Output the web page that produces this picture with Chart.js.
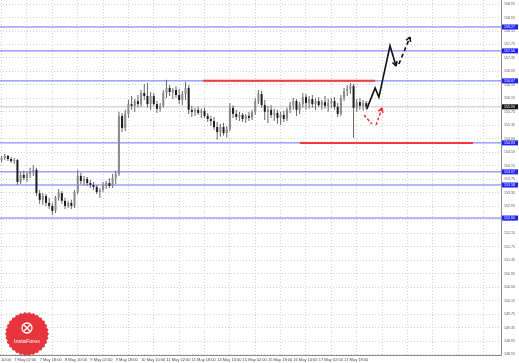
<!DOCTYPE html>
<html>
<head>
<meta charset="utf-8">
<script src="https://cdn.jsdelivr.net/npm/chart.js@4.4.1/dist/chart.umd.min.js"></script>
<style>
  html, body { margin: 0; padding: 0; background: #fff; }
  canvas { display: block; }
</style>
</head>
<body>
<canvas id="myChart" width="519" height="363"></canvas>
<script>
// 2 hour bars, first one is 4 May 18:00
const opens = [
    154.32, 154.38, 154.44, 154.35, 154.29, 154.32, 153.67, 153.88, 153.79, 153.91,
    153.97, 154.03, 153.34, 153.14, 153.25, 153.05, 152.96, 152.81, 153.20, 153.34,
    153.11, 152.96, 153.05, 152.96, 153.37, 153.85, 153.70, 153.76, 153.64, 153.58,
    153.52, 153.37, 153.43, 153.58, 153.64, 153.55, 153.79, 153.91, 155.63, 155.27,
    155.69, 155.98, 155.93, 156.07, 155.98, 156.31, 156.22, 155.98, 156.22, 155.98,
    155.84, 155.93, 156.31, 156.46, 156.34, 156.40, 156.25, 156.10, 156.28, 156.46,
    155.81, 155.75, 155.81, 155.72, 155.78, 155.63, 155.54, 155.48, 155.30, 155.15,
    155.30, 155.12, 155.24, 155.87, 155.69, 155.60, 155.66, 155.54, 155.63, 155.57,
    155.75, 156.07, 156.28, 155.95, 155.75, 155.81, 155.66, 155.72, 155.57, 155.66,
    155.54, 155.81, 155.95, 156.07, 155.81, 155.98, 156.19, 156.01, 156.13, 155.98,
    156.07, 155.95, 156.04, 155.93, 156.01, 156.07, 155.90, 155.69, 156.16, 156.37,
    156.43, 156.52, 155.87, 156.04, 155.93, 156.01
];
const highs = [
    154.44, 154.50, 154.47, 154.41, 154.38, 154.35, 153.97, 154.00, 153.97, 154.09,
    154.17, 154.09, 153.43, 153.34, 153.31, 153.20, 153.05, 153.25, 153.46, 153.40,
    153.20, 153.11, 153.14, 153.43, 154.03, 153.94, 153.85, 153.82, 153.73, 153.67,
    153.58, 153.49, 153.67, 153.70, 153.79, 153.91, 154.00, 155.75, 155.72, 155.81,
    156.10, 156.22, 156.13, 156.25, 156.40, 156.58, 156.61, 156.34, 156.31, 156.07,
    156.01, 156.40, 156.70, 156.55, 156.46, 156.52, 156.43, 156.37, 156.64, 156.55,
    155.93, 155.87, 155.90, 155.84, 155.87, 155.72, 155.63, 155.60, 155.45, 155.39,
    155.42, 155.33, 156.01, 155.95, 155.81, 155.75, 155.72, 155.69, 155.75, 155.81,
    156.16, 156.40, 156.37, 156.10, 155.93, 155.95, 155.84, 155.81, 155.75, 155.78,
    155.87, 156.04, 156.16, 156.13, 156.04, 156.31, 156.28, 156.22, 156.25, 156.16,
    156.19, 156.10, 156.22, 156.13, 156.16, 156.19, 156.01, 156.25, 156.46, 156.55,
    156.61, 156.58, 156.13, 156.16, 156.10, 156.07
];
const lows = [
    154.26, 154.32, 154.29, 154.23, 154.20, 153.58, 153.61, 153.73, 153.67, 153.79,
    153.85, 153.25, 153.02, 152.99, 152.96, 152.87, 152.69, 152.75, 153.11, 153.02,
    152.87, 152.90, 152.87, 152.90, 153.31, 153.61, 153.58, 153.55, 153.49, 153.43,
    153.31, 153.20, 153.37, 153.46, 153.49, 153.49, 153.61, 153.85, 155.15, 155.18,
    155.57, 155.81, 155.75, 155.87, 155.90, 156.10, 155.87, 155.81, 155.93, 155.72,
    155.75, 155.87, 156.16, 156.22, 156.13, 156.16, 155.98, 155.95, 156.10, 155.69,
    155.60, 155.63, 155.66, 155.57, 155.57, 155.45, 155.33, 155.21, 154.92, 155.01,
    155.04, 154.98, 155.18, 155.57, 155.51, 155.48, 155.45, 155.42, 155.48, 155.51,
    155.66, 155.98, 155.87, 155.51, 155.42, 155.57, 155.48, 155.39, 155.36, 155.45,
    155.48, 155.72, 155.81, 155.63, 155.69, 155.87, 155.81, 155.84, 155.87, 155.81,
    155.90, 155.81, 155.84, 155.75, 155.87, 155.81, 155.60, 155.63, 156.07, 156.22,
    156.28, 154.98, 155.75, 155.81, 155.78, 155.81
];
const closes = [
    154.38, 154.44, 154.35, 154.29, 154.32, 153.67, 153.88, 153.79, 153.91, 153.97,
    154.03, 153.34, 153.14, 153.25, 153.05, 152.96, 152.81, 153.20, 153.34, 153.11,
    152.96, 153.05, 152.96, 153.37, 153.85, 153.70, 153.76, 153.64, 153.58, 153.52,
    153.37, 153.43, 153.58, 153.64, 153.55, 153.79, 153.91, 155.63, 155.27, 155.69,
    155.98, 155.93, 156.07, 155.98, 156.31, 156.22, 155.98, 156.22, 155.98, 155.84,
    155.93, 156.31, 156.46, 156.34, 156.40, 156.25, 156.10, 156.28, 156.46, 155.81,
    155.75, 155.81, 155.72, 155.78, 155.63, 155.54, 155.48, 155.30, 155.15, 155.30,
    155.12, 155.24, 155.87, 155.69, 155.60, 155.66, 155.54, 155.63, 155.57, 155.75,
    156.07, 156.28, 155.95, 155.75, 155.81, 155.66, 155.72, 155.57, 155.66, 155.54,
    155.81, 155.95, 156.07, 155.81, 155.98, 156.19, 156.01, 156.13, 155.98, 156.07,
    155.95, 156.04, 155.93, 156.01, 156.07, 155.90, 155.69, 156.16, 156.37, 156.43,
    156.52, 155.87, 156.04, 155.93, 156.01, 155.90
];

const yTicks = [
    148.55, 148.95, 149.35, 149.75, 150.15, 150.55, 150.95, 151.35, 151.75,
    152.15, 152.55, 152.95, 153.35, 153.75, 154.15, 154.55, 154.95, 155.35,
    155.75, 156.15, 156.55, 156.95, 157.35, 157.75, 158.15, 158.55, 158.95
];
// one label every 8 bars, first one sits 4 bars before the first bar
const timeLabels = [
    '4 May 10:00', '7 May 02:00', '7 May 18:00', '8 May 10:00', '9 May 02:00',
    '9 May 18:00', '10 May 10:00', '11 May 02:00', '11 May 18:00', '14 May 10:00',
    '15 May 02:00', '15 May 18:00', '16 May 10:00', '17 May 02:00', '17 May 18:00'
];

const levels = [158.27, 157.56, 156.67, 154.83, 153.97, 153.58, 152.60];
const lastPrice = 155.90;

// red zone lines: [price, from bar, to bar]
const redLines = [
    [156.67, 63.5, 117.8],
    [154.83, 94.1, 148.7]
];

// forecast arrows [bar, price]
const blackPath = [[115.2, 155.84], [117.8, 156.46], [119.0, 156.19], [122.5, 157.71], [124.4, 157.11]];
const blackDash = [[125.3, 157.17], [128.8, 157.97]];
const redDash1 = [[114.3, 155.66], [116.8, 155.39]];
const redDash2 = [[118.1, 155.36], [120.0, 155.87]];

const SLOTS = 158;

let wicks = [];
let bodies = [];
for (let i = 0; i < opens.length; i++) {
    wicks.push({x: i, y: [lows[i], highs[i]]});
    bodies.push({x: i, y: [Math.min(opens[i], closes[i]), Math.max(opens[i], closes[i])]});
}

function pts(arr)
{
    return arr.map(p => ({x: p[0], y: p[1]}));
}

let datasets = [];

levels.forEach(v => {
    datasets.push({
        type: 'line', data: [{x: -0.5, y: v}, {x: SLOTS - 0.5, y: v}],
        borderColor: '#6f6fff', borderWidth: 1, pointRadius: 0, order: 6
    });
});
datasets.push({
    type: 'line', data: [{x: -0.5, y: lastPrice}, {x: SLOTS - 0.5, y: lastPrice}],
    borderColor: '#c4c4c4', borderWidth: 1, pointRadius: 0, order: 6
});
redLines.forEach(r => {
    datasets.push({
        type: 'line', data: [{x: r[1], y: r[0]}, {x: r[2], y: r[0]}],
        borderColor: '#f23b3b', borderWidth: 2, pointRadius: 0, order: 1
    });
});

datasets.push({
    type: 'bar', data: wicks, grouped: false, maxBarThickness: 1,
    backgroundColor: '#666', borderWidth: 0, order: 3
});
datasets.push({
    type: 'bar', data: bodies, grouped: false, maxBarThickness: 2, minBarLength: 1,
    backgroundColor: ctx => closes[ctx.dataIndex] >= opens[ctx.dataIndex] ? '#8a8a8a' : '#1c1c1c',
    borderWidth: 0, order: 2
});

datasets.push({
    type: 'line', data: pts(blackPath), borderColor: '#111', borderWidth: 1.6,
    pointRadius: 0, order: 0, arrowHead: true
});
datasets.push({
    type: 'line', data: pts(blackDash), borderColor: '#111', borderWidth: 1.6,
    borderDash: [4, 3], pointRadius: 0, order: 0, arrowHead: true
});
datasets.push({
    type: 'line', data: pts(redDash1), borderColor: '#f03030', borderWidth: 1.5,
    borderDash: [3, 2], pointRadius: 0, order: 0
});
datasets.push({
    type: 'line', data: pts(redDash2), borderColor: '#f03030', borderWidth: 1.5,
    borderDash: [3, 2], pointRadius: 0, order: 0, arrowHead: true
});

const arrowPlugin = {
    id: 'arrows',
    afterDatasetsDraw(chart) {
        const ctx = chart.ctx;
        chart.data.datasets.forEach((ds, i) => {
            if (!ds.arrowHead) return;
            const p = chart.getDatasetMeta(i).data;
            const a = p[p.length - 2], b = p[p.length - 1];
            const ang = Math.atan2(b.y - a.y, b.x - a.x);
            ctx.save();
            ctx.strokeStyle = ds.borderColor;
            ctx.lineWidth = ds.borderWidth;
            ctx.setLineDash([]);
            ctx.beginPath();
            [-0.5, 0.5].forEach(d => {
                ctx.moveTo(b.x, b.y);
                ctx.lineTo(b.x - 5 * Math.cos(ang + d), b.y - 5 * Math.sin(ang + d));
            });
            ctx.stroke();
            ctx.restore();
        });
    }
};

const framePlugin = {
    id: 'frame',
    afterDraw(chart) {
        const ctx = chart.ctx;
        const a = chart.chartArea;
        const ys = chart.scales.y;
        ctx.save();
        ctx.strokeStyle = '#8a8a8a';
        ctx.lineWidth = 1;
        ctx.beginPath();
        ctx.moveTo(a.right + 0.5, 0);
        ctx.lineTo(a.right + 0.5, a.bottom + 0.5);
        ctx.lineTo(0, a.bottom + 0.5);
        ctx.stroke();

        // price labels of the drawn levels
        ctx.font = '3.6px "Liberation Sans"';
        ctx.textBaseline = 'middle';
        ctx.textAlign = 'left';
        levels.forEach(v => {
            const y = ys.getPixelForValue(v);
            ctx.fillStyle = '#1f1fff';
            ctx.fillRect(a.right + 1, y - 2.5, 16, 5);
            ctx.fillStyle = '#fff';
            ctx.fillText(v.toFixed(2), a.right + 3, y);
        });
        const yl = ys.getPixelForValue(lastPrice);
        ctx.fillStyle = '#111';
        ctx.fillRect(a.right + 1, yl - 2.5, 16, 5);
        ctx.fillStyle = '#fff';
        ctx.fillText(lastPrice.toFixed(2), a.right + 3, yl);

        // logo badge
        const cx = 27, cy = 334, R = 22;
        ctx.fillStyle = '#e8353d';
        ctx.beginPath();
        for (let k = 0; k <= 60; k++) {
            const ang = k / 60 * Math.PI * 2;
            const r = k % 2 ? R - 1.5 : R;
            const px = cx + r * Math.cos(ang), py = cy + r * Math.sin(ang);
            if (k == 0) ctx.moveTo(px, py); else ctx.lineTo(px, py);
        }
        ctx.fill();
        ctx.strokeStyle = '#fff';
        ctx.lineWidth = 1.3;
        ctx.beginPath();
        ctx.arc(cx, cy - 6, 5, 0, Math.PI * 2);
        ctx.stroke();
        ctx.beginPath();
        ctx.moveTo(cx - 3, cy - 9);
        ctx.lineTo(cx + 3, cy - 3);
        ctx.moveTo(cx + 3, cy - 9);
        ctx.lineTo(cx - 3, cy - 3);
        ctx.stroke();
        ctx.fillStyle = '#fff';
        ctx.font = '5.5px "Liberation Sans"';
        ctx.textAlign = 'center';
        ctx.fillText('InstaForex', cx, cy + 7);
        ctx.restore();
    }
};

const ctx = document.getElementById('myChart');
const myChart = new Chart(ctx, {
    type: 'bar',
    data: { datasets: datasets },
    plugins: [arrowPlugin, framePlugin],
    options: {
        responsive: false,
        animation: false,
        layout: { padding: 0 },
        plugins: { legend: { display: false }, tooltip: { enabled: false } },
        scales: {
            x: {
                type: 'linear',
                min: -0.5,
                max: SLOTS - 0.5,
                offset: false,
                afterBuildTicks: scale => {
                    let t = [];
                    for (let k = -4; k < SLOTS; k += 8) t.push({value: k});
                    scale.ticks = t;
                },
                afterFit: scale => {
                    scale.height = 8;
                    scale.paddingLeft = 0;
                    scale.paddingRight = 0;
                },
                ticks: {
                    autoSkip: false,
                    maxRotation: 0,
                    minRotation: 0,
                    align: 'start',
                    padding: 2,
                    color: '#444',
                    font: { family: 'Liberation Sans', size: 4 },
                    callback: v => timeLabels[(v + 4) / 8] || ''
                },
                grid: { color: '#d2d2d2', drawTicks: false },
                border: { display: false, dash: [1, 2] }
            },
            y: {
                type: 'linear',
                position: 'right',
                min: 148.535,
                max: 159.07,
                afterBuildTicks: scale => {
                    scale.ticks = yTicks.map(v => ({value: v}));
                },
                afterFit: scale => {
                    scale.width = 18;
                    scale.paddingTop = 0;
                    scale.paddingBottom = 0;
                },
                ticks: {
                    autoSkip: false,
                    padding: 3,
                    color: '#555',
                    font: { family: 'Liberation Sans', size: 3.6 },
                    callback: v => v.toFixed(2)
                },
                grid: { color: '#d2d2d2', drawTicks: false },
                border: { display: false, dash: [1, 2] }
            }
        }
    }
});
</script>
</body>
</html>
